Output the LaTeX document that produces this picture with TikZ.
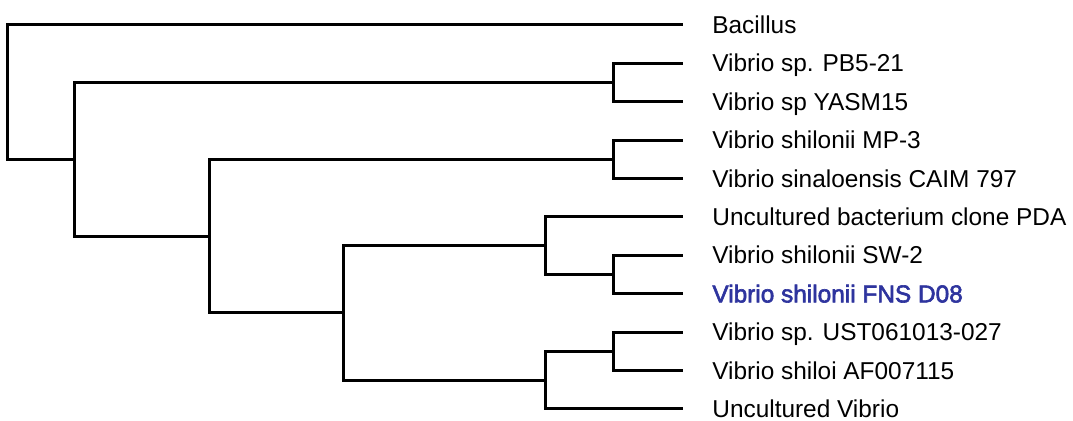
\documentclass[tikz,border=0pt]{standalone}
\usepackage{fontspec}
\setmainfont{Liberation Sans}
\newfontfamily\thickfont[FakeBold=2.5]{Liberation Sans}
\usetikzlibrary{positioning,calc}
\definecolor{hilite}{RGB}{46,52,158}

\begin{document}
\begin{tikzpicture}[x=0.5pt, y=-0.5pt]

        \def\tipx{683}

        % Leaf labels: the west anchor is the tip of each branch
        \tikzset{leaf/.style={anchor=west, inner ysep=0pt, inner xsep=14.5pt,
                text height=8.6pt, text depth=0pt,
                font=\fontsize{12.2pt}{14pt}\selectfont}}
        \tikzset{branch/.style={line width=1.5pt}}

        \useasboundingbox (0, 0) rectangle (1073, 421);

        % Scope used for the leaves of the tree
        \begin{scope}
            \node[leaf] (L1) at (\tipx, 25) {Bacillus};
            \node[leaf] (L2) at (\tipx, 63.4) {Vibrio sp. PB5-21};
            \node[leaf] (L3) at (\tipx, 101.8) {Vibrio sp YASM15};
            \node[leaf] (L4) at (\tipx, 140.2) {Vibrio shilonii MP-3};
            \node[leaf] (L5) at (\tipx, 178.6) {Vibrio sinaloensis CAIM 797};
            \node[leaf] (L6) at (\tipx, 217) {Uncultured bacterium clone PDA};
            \node[leaf] (L7) at (\tipx, 255.4) {Vibrio shilonii SW-2};
            \node[leaf, text=hilite] (L8) at (\tipx, 293.8)
            {\thickfont Vibrio shilonii FNS D08};
            \node[leaf] (L9) at (\tipx, 332.2) {Vibrio sp. UST061013-027};
            \node[leaf] (L10) at (\tipx, 370.6) {Vibrio shiloi AF007115};
            \node[leaf] (L11) at (\tipx, 409) {Uncultured Vibrio};
        \end{scope}

        % Inner nodes of the tree
        \coordinate (R) at (7.5, 92.2);
        \coordinate (A) at (74, 159.4);
        \coordinate (B) at (613, 82.6);
        \coordinate (C) at (209, 236.2);
        \coordinate (D) at (613, 159.4);
        \coordinate (E) at (343, 313);
        \coordinate (F) at (545, 245.8);
        \coordinate (G) at (545, 380.2);
        \coordinate (H) at (613, 274.6);
        \coordinate (I) at (613, 351.4);

        \begin{scope}[branch]
            \draw (R) |- (L1.west);
            \draw (R) |- (A);
            \draw (A) |- (B);
            \draw (A) |- (C);
            \draw (B) |- (L2.west);
            \draw (B) |- (L3.west);
            \draw (C) |- (D);
            \draw (C) |- (E);
            \draw (D) |- (L4.west);
            \draw (D) |- (L5.west);
            \draw (E) |- (F);
            \draw (E) |- (G);
            \draw (F) |- (L6.west);
            \draw (F) |- (H);
            \draw (H) |- (L7.west);
            \draw (H) |- (L8.west);
            \draw (G) |- (I);
            \draw (G) |- (L11.west);
            \draw (I) |- (L9.west);
            \draw (I) |- (L10.west);
        \end{scope}

\end{tikzpicture}
\end{document}
